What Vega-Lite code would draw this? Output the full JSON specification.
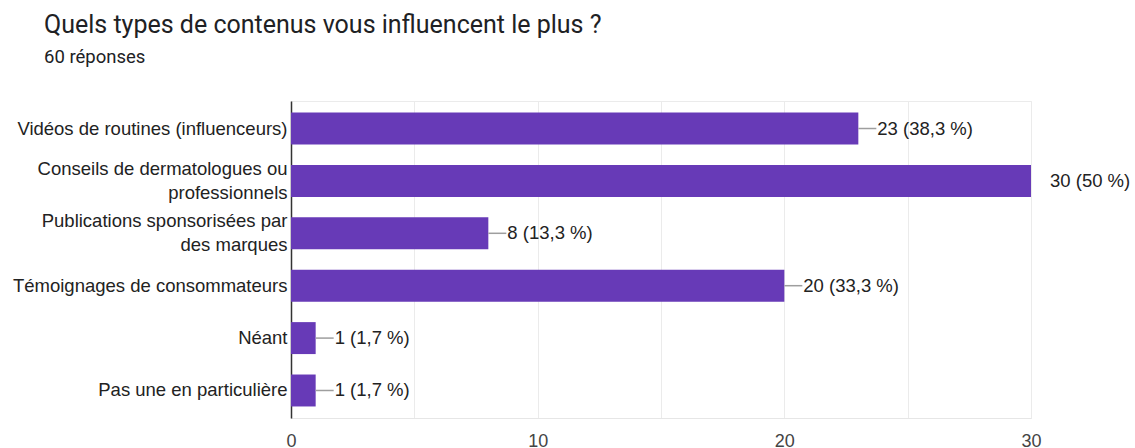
{
  "$schema": "https://vega.github.io/schema/vega-lite/v6.json",
  "width": 740,
  "height": 317,
  "autosize": {"type": "none"},
  "padding": {"left": 291, "top": 101, "right": 104, "bottom": 30},
  "background": "white",
  "title": {
    "text": "Quels types de contenus vous influencent le plus ?",
    "subtitle": "60 réponses",
    "anchor": "start",
    "frame": "group",
    "dx": -247,
    "font": "Roboto",
    "fontSize": 25,
    "fontWeight": "normal",
    "color": "#202124",
    "subtitleFont": "Roboto",
    "subtitleFontSize": 18.5,
    "subtitleColor": "#202124",
    "subtitlePadding": 10,
    "offset": 35
  },
  "config": {"view": {"stroke": "#ebebeb"}},
  "data": {
    "values": [
      {"type": "Vidéos de routines (influenceurs)", "count": 23, "label": "23 (38,3 %)"},
      {"type": "Conseils de dermatologues ou|professionnels", "count": 30, "label": "30 (50 %)"},
      {"type": "Publications sponsorisées par|des marques", "count": 8, "label": "8 (13,3 %)"},
      {"type": "Témoignages de consommateurs", "count": 20, "label": "20 (33,3 %)"},
      {"type": "Néant", "count": 1, "label": "1 (1,7 %)"},
      {"type": "Pas une en particulière", "count": 1, "label": "1 (1,7 %)"}
    ]
  },
  "encoding": {
    "y": {
      "field": "type",
      "type": "nominal",
      "sort": null,
      "scale": {"paddingInner": 0.39, "paddingOuter": 0.22},
      "axis": {
        "title": null,
        "domainColor": "#333333",
        "domainWidth": 1.5,
        "ticks": false,
        "labelPadding": 4,
        "labelFont": "Liberation Sans",
        "labelFontSize": 18.5,
        "labelColor": "#222222",
        "labelLimit": 400,
        "labelLineHeight": 24,
        "labelOffset": {"condition": {"test": "indexof(datum.value, '|') >= 0", "value": -12}, "value": 0},
        "labelExpr": "split(datum.label, '|')",
        "grid": false
      }
    }
  },
  "layer": [
    {
      "mark": {"type": "bar", "color": "#673ab7"},
      "encoding": {
        "x": {
          "field": "count",
          "type": "quantitative",
          "scale": {"domain": [0, 30], "nice": false},
          "axis": {
            "title": null,
            "values": [0, 5, 10, 15, 20, 25, 30],
            "labelExpr": "datum.value % 10 === 0 ? datum.label : ''",
            "labelFlush": false,
            "grid": true,
            "gridColor": "#ebebeb",
            "domainColor": "#e6e6e6",
            "ticks": false,
            "labelFont": "Liberation Sans",
            "labelFontSize": 18,
            "labelColor": "#444444",
            "labelPadding": 14
          }
        }
      }
    },
    {
      "mark": {"type": "rule", "color": "#9e9e9e", "x2Offset": 18, "strokeWidth": 1.5},
      "encoding": {
        "x": {"field": "count", "type": "quantitative"},
        "x2": {"field": "count"},
        "strokeOpacity": {"condition": {"test": "datum.count >= 30", "value": 0}, "value": 1}
      }
    },
    {
      "mark": {"type": "text", "align": "left", "dx": 19, "font": "Liberation Sans", "fontSize": 18.5, "color": "#222222"},
      "encoding": {
        "x": {"field": "count", "type": "quantitative"},
        "text": {"field": "label"}
      }
    }
  ]
}
